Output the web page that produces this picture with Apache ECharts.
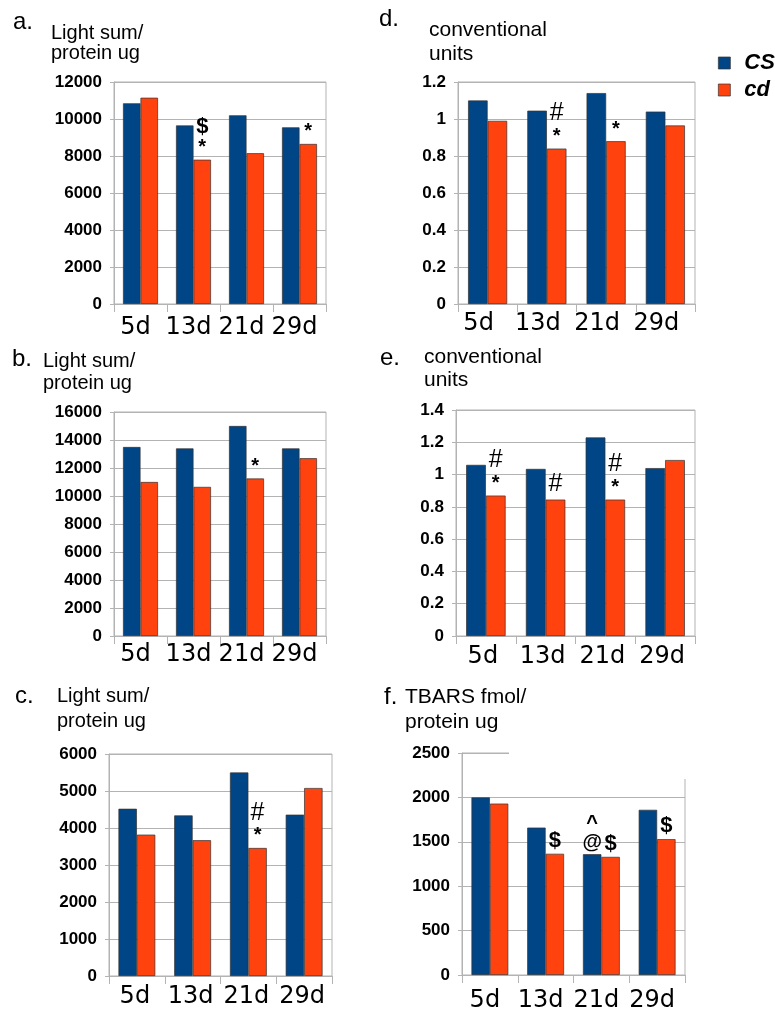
<!DOCTYPE html>
<html>
<head>
<meta charset="utf-8">
<script src="https://cdn.jsdelivr.net/npm/echarts@6/dist/echarts.min.js"></script>
<style>
html,body{margin:0;padding:0;background:#fff;}
#chart{width:775px;height:1013px;}
</style>
</head>
<body>
<div id="chart"></div>
<script>
// ---- data ----
const categories = ['5d', '13d', '21d', '29d'];
const seriesNames = ['CS', 'cd'];

const aCS = [10850, 9650, 10200, 9550];
const aCD = [11150, 7800, 8150, 8650];
const bCS = [13500, 13400, 15000, 13400];
const bCD = [11000, 10650, 11250, 12700];
const cCS = [4520, 4340, 5500, 4360];
const cCD = [3820, 3670, 3460, 5080];
const dCS = [1.10, 1.045, 1.14, 1.04];
const dCD = [0.99, 0.84, 0.88, 0.965];
const eCS = [1.06, 1.035, 1.23, 1.04];
const eCD = [0.87, 0.845, 0.845, 1.09];
const fCS = [2000, 1660, 1360, 1860];
const fCD = [1930, 1365, 1330, 1530];

// significance marks
const aAnnCS = ['', '', '', ''];
const aAnnCD = ['', '$\n*', '', '*'];
const bAnnCS = ['', '', '', ''];
const bAnnCD = ['', '', '*', ''];
const cAnnCS = ['', '', '', ''];
const cAnnCD = ['', '', '#\n*', ''];
const dAnnCS = ['', '', '', ''];
const dAnnCD = ['', '#\n*', '*', ''];
const eAnnCS = ['', '', '', ''];
const eAnnCD = ['#\n*', '#', '#\n*', ''];
const fAnnCS = ['', '', '^\n@', ''];
const fAnnCD = ['', '$', '$', '$'];

// y-axis scales
const yMax = [12000, 16000, 6000, 1.2, 1.4, 2500];
const yInterval = [2000, 2000, 1000, 0.2, 0.2, 500];

// panel titles
const panelLetters = ['a.', 'b.', 'c.', 'd.', 'e.', 'f.'];
const panelYTitles = ['Light sum/\nprotein ug', 'Light sum/\nprotein ug', 'Light sum/\nprotein ug',
  'conventional\nunits', 'conventional\nunits', 'TBARS fmol/\nprotein ug'];

// ---- layout (not data) ----
const grids = [
  {left: 114, top: 82, width: 212, height: 222},
  {left: 114, top: 412, width: 212, height: 224},
  {left: 109, top: 754, width: 223, height: 222},
  {left: 458, top: 82, width: 237, height: 222},
  {left: 456, top: 410, width: 239, height: 226},
  {left: 462, top: 753, width: 223, height: 222}
];
const xLabelMargin = [12, 7, 9, 8, 9, 14];
const xLabelShift = [-5, -5, -2, -9, -3, -5];
const letterPos = [[13, 10], [12, 347], [15, 684], [379, 7], [380, 346], [384, 685]];
const yTitlePos = [[51, 23, 20, 20], [43, 350, 20, 22], [57, 684, 20, 25],
  [429, 18, 21, 24], [424, 346, 21, 23], [405, 685, 21, 25]];

const BLUE = '#004586';
const ORANGE = '#ff420e';
const GRID = '#b3b3b3';

const csData = [aCS, bCS, cCS, dCS, eCS, fCS];
const cdData = [aCD, bCD, cCD, dCD, eCD, fCD];
const csAnn = [aAnnCS, bAnnCS, cAnnCS, dAnnCS, eAnnCS, fAnnCS];
const cdAnn = [aAnnCD, bAnnCD, cAnnCD, dAnnCD, eAnnCD, fAnnCD];

const richMap = {'*': 's', '#': 'h', '$': 'd', '^': 'c', '@': 'a'};
function annText(str) {
  return str.split('\n').map(ch => '{' + richMap[ch] + '|' + ch + '}').join('\n');
}
const rich = {
  s: {fontSize: 20, fontWeight: 'bold', lineHeight: 20, fontFamily: 'Liberation Sans', color: '#000'},
  h: {fontSize: 25, fontWeight: 'normal', lineHeight: 26, fontFamily: 'Liberation Sans', color: '#000'},
  d: {fontSize: 22, fontWeight: 'bold', lineHeight: 22, fontFamily: 'Liberation Sans', color: '#000'},
  c: {fontSize: 20, fontWeight: 'bold', lineHeight: 18, fontFamily: 'Liberation Sans', color: '#000'},
  a: {fontSize: 20, fontWeight: 'bold', lineHeight: 20, fontFamily: 'Liberation Sans', color: '#000'}
};

function makeData(values, anns) {
  return values.map((v, i) => {
    const t = anns[i];
    if (!t) return v;
    return {value: v, label: {show: true, position: 'top', distance: 2, formatter: annText(t), rich: rich}};
  });
}

const option = {
  backgroundColor: '#fff',
  animation: false,
  title: [],
  grid: [],
  xAxis: [],
  yAxis: [],
  series: [],
  legend: {
    data: seriesNames,
    orient: 'vertical',
    left: 713,
    top: 47,
    itemWidth: 12,
    itemHeight: 12,
    itemGap: 5,
    icon: 'rect',
    itemStyle: {borderColor: '#333', borderWidth: 0.7},
    textStyle: {fontSize: 22, fontWeight: 'bold', fontStyle: 'italic', fontFamily: 'Liberation Sans', color: '#000', padding: [0, 0, 0, 9]}
  },
  graphic: [
    {type: 'rect', shape: {x: 509, y: 747, width: 183, height: 32}, style: {fill: '#fff'}, z: 100}
  ]
};

for (let p = 0; p < 6; p++) {
  option.grid.push(Object.assign({show: true, borderColor: GRID, borderWidth: 1, backgroundColor: 'transparent'}, grids[p]));
  option.xAxis.push({
    type: 'category', gridIndex: p, data: categories,
    axisLine: {lineStyle: {color: GRID}},
    axisTick: {show: true, length: 8, lineStyle: {color: GRID}},
    axisLabel: {interval: 0, hideOverlap: false, fontSize: 24, fontFamily: 'DejaVu Sans', color: '#000', margin: xLabelMargin[p],
      padding: xLabelShift[p] < 0 ? [0, -2 * xLabelShift[p], 0, 0] : [0, 0, 0, 2 * xLabelShift[p]]}
  });
  option.yAxis.push({
    type: 'value', gridIndex: p, min: 0, max: yMax[p], interval: yInterval[p],
    axisLine: {show: true, lineStyle: {color: GRID}},
    axisTick: {show: true, length: 4, lineStyle: {color: GRID}},
    splitLine: {show: true, lineStyle: {color: GRID}},
    axisLabel: {fontSize: 17, fontWeight: 'bold', fontFamily: 'Liberation Sans', color: '#000', margin: 12,
      formatter: v => String(+v.toFixed(2))}
  });
  option.series.push({
    name: 'CS', type: 'bar', xAxisIndex: p, yAxisIndex: p,
    data: makeData(csData[p], csAnn[p]),
    barGap: '0%', barCategoryGap: '34%',
    itemStyle: {color: BLUE, borderColor: '#333', borderWidth: 0.7}
  });
  option.series.push({
    name: 'cd', type: 'bar', xAxisIndex: p, yAxisIndex: p,
    data: makeData(cdData[p], cdAnn[p]),
    barGap: '0%', barCategoryGap: '34%',
    itemStyle: {color: ORANGE, borderColor: '#333', borderWidth: 0.7}
  });
  option.title.push({
    text: panelLetters[p], left: letterPos[p][0], top: letterPos[p][1], padding: 0,
    textStyle: {fontSize: 24, fontWeight: 'normal', fontFamily: 'Liberation Sans', color: '#000', lineHeight: 24}
  });
  option.title.push({
    text: panelYTitles[p], left: yTitlePos[p][0], top: yTitlePos[p][1], padding: 0,
    textStyle: {fontSize: yTitlePos[p][2], fontWeight: 'normal', fontFamily: 'Liberation Sans', color: '#000', lineHeight: yTitlePos[p][3]}
  });
}

const chart = echarts.init(document.getElementById('chart'), null, {renderer: 'canvas'});
chart.setOption(option);
</script>
</body>
</html>
